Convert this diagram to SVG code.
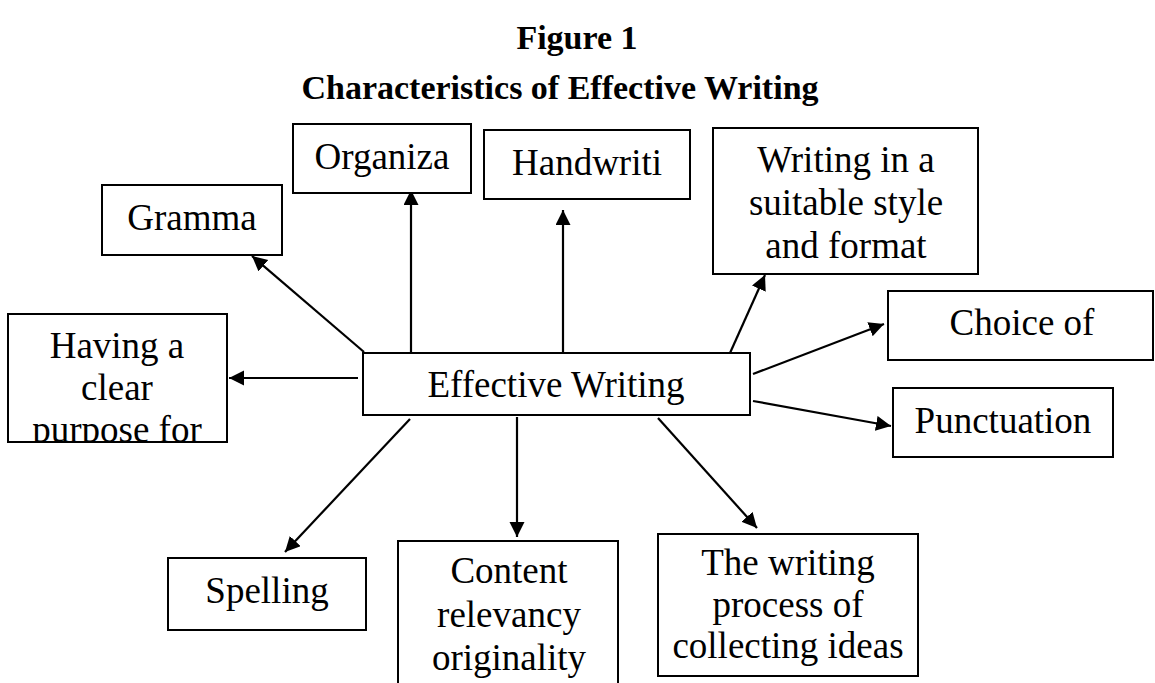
<svg xmlns="http://www.w3.org/2000/svg" width="1155" height="683" viewBox="0 0 1155 683">
<style>
.title{font-family:"Liberation Serif","Times New Roman",serif;font-weight:bold;font-size:34px;fill:#000;text-anchor:middle}
.box{fill:#fff;stroke:#000;stroke-width:2}
.lbl{font-family:"Liberation Serif","Times New Roman",serif;font-size:37px;fill:#000;text-anchor:middle}
.con{stroke:#000;stroke-width:2.2;fill:none;marker-end:url(#ah)}
</style>
<defs>
<marker id="ah" markerUnits="userSpaceOnUse" markerWidth="16" markerHeight="16" refX="15" refY="7.5" orient="auto">
<path d="M0,0 L15,7.5 L0,15 z" fill="#000"/>
</marker>
<clipPath id="clipHaving"><rect x="8" y="314" width="219" height="128"/></clipPath>
<clipPath id="clipContent"><rect x="398" y="541" width="220" height="137"/></clipPath>
<clipPath id="clipProcess"><rect x="658" y="534" width="260" height="142"/></clipPath>
</defs>
<rect width="1155" height="683" fill="#fff"/>
<text class="title" x="577" y="49">Figure 1</text>
<text class="title" x="560" y="99">Characteristics of Effective Writing</text>

<g id="connectors">
<line class="con" x1="364" y1="352" x2="252" y2="256"/>
<line class="con" x1="358" y1="378" x2="229" y2="378"/>
<line class="con" x1="411" y1="357" x2="411" y2="190"/>
<line class="con" x1="563" y1="353" x2="563" y2="210"/>
<line class="con" x1="730" y1="353" x2="765" y2="275"/>
<line class="con" x1="753" y1="374" x2="884" y2="324"/>
<line class="con" x1="753" y1="401" x2="891" y2="426"/>
<line class="con" x1="410" y1="419" x2="285" y2="552"/>
<line class="con" x1="517" y1="417" x2="517" y2="537"/>
<line class="con" x1="658" y1="418" x2="757" y2="528"/>
</g>

<g id="effective">
<rect class="box" x="363" y="353" width="387" height="62"/>
<text class="lbl" x="556" y="397">Effective Writing</text>
</g>
<g id="grammar">
<rect class="box" x="102" y="185" width="180" height="70"/>
<text class="lbl" x="192" y="230">Gramma</text>
</g>
<g id="organization">
<rect class="box" x="293" y="124" width="178" height="69"/>
<text class="lbl" x="382" y="169">Organiza</text>
</g>
<g id="handwriting">
<rect class="box" x="484" y="130" width="206" height="69"/>
<text class="lbl" x="587" y="175">Handwriti</text>
</g>
<g id="style">
<rect class="box" x="713" y="128" width="265" height="146"/>
<text class="lbl" x="846" y="172">Writing in a</text>
<text class="lbl" x="846" y="215">suitable style</text>
<text class="lbl" x="846" y="258">and format</text>
</g>
<g id="choice">
<rect class="box" x="888" y="291" width="265" height="69"/>
<text class="lbl" x="1022" y="335">Choice of</text>
</g>
<g id="punctuation">
<rect class="box" x="893" y="388" width="220" height="69"/>
<text class="lbl" x="1003" y="433">Punctuation</text>
</g>
<g id="purpose">
<rect class="box" x="8" y="314" width="219" height="128"/>
<g clip-path="url(#clipHaving)">
<text class="lbl" x="117" y="358">Having a</text>
<text class="lbl" x="117" y="400">clear</text>
<text class="lbl" x="117" y="442">purpose for</text>
</g>
</g>
<g id="spelling">
<rect class="box" x="168" y="558" width="198" height="72"/>
<text class="lbl" x="267" y="603">Spelling</text>
</g>
<g id="content">
<rect class="box" x="398" y="541" width="220" height="150"/>
<g clip-path="url(#clipContent)">
<text class="lbl" x="509" y="583">Content</text>
<text class="lbl" x="509" y="627">relevancy</text>
<text class="lbl" x="509" y="670">originality</text>
</g>
</g>
<g id="process">
<rect class="box" x="658" y="534" width="260" height="142"/>
<g clip-path="url(#clipProcess)">
<text class="lbl" x="788" y="575">The writing</text>
<text class="lbl" x="788" y="617">process of</text>
<text class="lbl" x="788" y="658">collecting ideas</text>
</g>
</g>
</svg>
